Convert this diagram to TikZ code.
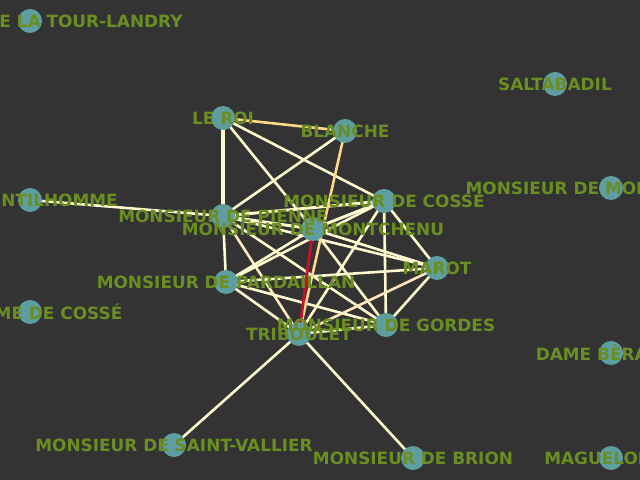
\documentclass[tikz,border=0pt]{standalone}
\usepackage{fontspec}
\setmainfont{DejaVu Sans}
\definecolor{bgc}{HTML}{333333}
\definecolor{nodec}{HTML}{5F9EA0}
\definecolor{textc}{HTML}{6B8E23}
\definecolor{edgec}{HTML}{FFFACD}
\definecolor{edgeo}{HTML}{FFD98A}
\definecolor{edgep}{HTML}{FFE8BE}
\definecolor{edger}{HTML}{C8102E}
\begin{document}
\begin{tikzpicture}[x=1bp,y=-1bp,
  vert/.style={circle,fill=nodec,minimum size=24bp,inner sep=0pt},
  lab/.style={text=textc,inner sep=0pt,font=\fontsize{16.9bp}{19bp}\selectfont\bfseries},
  edge/.style={draw=edgec,line width=2.6bp},
  edgeor/.style={draw=edgeo,line width=2.6bp},
  edgepe/.style={draw=edgep,line width=2.6bp},
  edgered/.style={draw=edger,line width=2.8bp}]
\fill[bgc] (0,0) rectangle (640,480);
\useasboundingbox (0,0) rectangle (640,480);
% node positions
\coordinate (tl) at (30,21);
\coordinate (sa) at (555,84);
\coordinate (lr) at (223,118);
\coordinate (bl) at (345,131);
\coordinate (ge) at (30,200);
\coordinate (mm) at (611,188);
\coordinate (co) at (384,201);
\coordinate (pi) at (223,216);
\coordinate (mc) at (313,229);
\coordinate (ma) at (437,268);
\coordinate (pa) at (226,282);
\coordinate (dc) at (30,312);
\coordinate (go) at (386,325);
\coordinate (tr) at (299,334);
\coordinate (be) at (611,353);
\coordinate (sv) at (174,445);
\coordinate (br) at (413,458);
\coordinate (mg) at (611,458);
% edges
\draw[edgeor] (lr) -- (bl);
\draw[edge,line width=3.6bp] (lr) -- (pi);
\draw[edge] (lr) -- (co);
\draw[edge] (lr) -- (mc);
\draw[edge] (bl) -- (pi);
\draw[edge] (ge) -- (pi);
\draw[edge,line width=3bp] (pi) -- (co);
\draw[edge,line width=3bp] (pi) -- (mc);
\draw[edge] (pi) -- (pa);
\draw[edge] (pi) -- (ma);
\draw[edge] (pi) -- (go);
\draw[edgepe] (pi) -- (tr);
\draw[edge,line width=3bp] (co) -- (mc);
\draw[edge] (co) -- (pa);
\draw[edge] (co) -- (ma);
\draw[edge] (co) -- (go);
\draw[edge] (co) -- (tr);
\draw[edge] (mc) -- (pa);
\draw[edge] (mc) -- (ma);
\draw[edge] (mc) -- (go);
\draw[edge] (pa) -- (ma);
\draw[edge] (pa) -- (go);
\draw[edge] (pa) -- (tr);
\draw[edge] (ma) -- (go);
\draw[edgepe] (ma) -- (tr);
\draw[edge] (go) -- (tr);
\draw[edge] (tr) -- (sv);
\draw[edge] (tr) -- (br);
\draw[edgeor] (bl) -- (tr);
\draw[edgered] (mc) -- (tr);
% vertices
\foreach \p in {tl,sa,lr,bl,ge,mm,co,pi,mc,ma,pa,dc,go,tr,be,sv,br,mg}
  \node[vert] (n\p) at (\p) {};
% labels
\node[lab] (ltl) at (tl) {MONSIEUR DE LA TOUR-LANDRY};
\node[lab] (lsa) at (sa) {SALTABADIL};
\node[lab] (llr) at (lr) {LE ROI};
\node[lab] (lbl) at (bl) {BLANCHE};
\node[lab] (lge) at (ge) {UN GENTILHOMME};
\node[lab] (lmm) at (mm) {MONSIEUR DE MONTMORENCY};
\node[lab] (lco) at (co) {MONSIEUR DE COSSE};
\node[lab] (lpi) at (pi) {MONSIEUR DE PIENNE};
\node[lab] (lmc) at (mc) {MONSIEUR DE MONTCHENU};
\node[lab] (lma) at (ma) {MAROT};
\node[lab] (lpa) at (pa) {MONSIEUR DE PARDAILLAN};
\node[lab] (ldc) at (dc) {MADAME DE COSSÉ};
\node[lab] (lgo) at (go) {MONSIEUR DE GORDES};
\node[lab] (ltr) at (tr) {TRIBOULET};
\node[lab] (lbe) at (be) {DAME BÈRARDE};
\node[lab] (lsv) at (sv) {MONSIEUR DE SAINT-VALLIER};
\node[lab] (lbr) at (br) {MONSIEUR DE BRION};
\node[lab] (lmg) at (mg) {MAGUELONNE};
\end{tikzpicture}
\end{document}
